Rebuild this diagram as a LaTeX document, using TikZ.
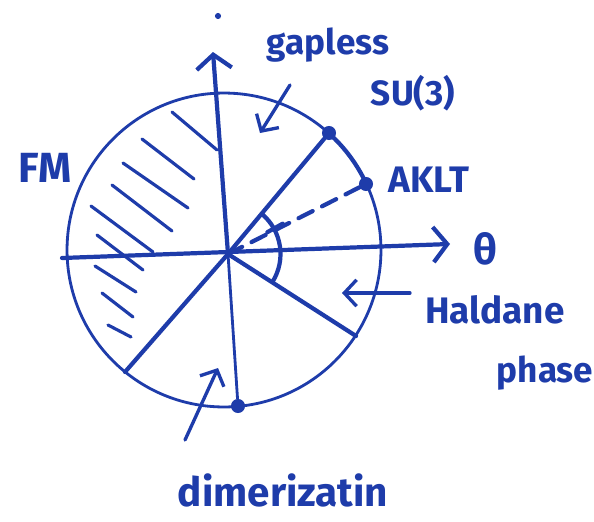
\documentclass[tikz,border=0pt]{standalone}
\usepackage{fontspec}
\setmainfont{Fira Sans}
\usetikzlibrary{arrows.meta}
\definecolor{ink}{RGB}{30,60,170}
\pgfdeclarelayer{edgelayer}
\pgfdeclarelayer{nodelayer}
\pgfsetlayers{edgelayer,nodelayer,main}
\tikzstyle{edge}=[draw=ink, line width=2.4pt, line cap=round]
\tikzstyle{thin edge}=[draw=ink, line width=1.6pt, line cap=round]
\tikzstyle{hatch}=[draw=ink, line width=1.8pt, line cap=round]
\tikzstyle{axis}=[edge, -{Straight Barb[length=8pt, width=20pt]}]
\tikzstyle{pointer}=[draw=ink, line width=1.9pt, line cap=round, -{Straight Barb[length=7pt, width=15pt]}]
\tikzstyle{vertex}=[circle, fill=ink, inner sep=0pt, minimum size=8pt]
\tikzstyle{word}=[text=ink, font=\fontsize{20}{24}\selectfont\bfseries, inner sep=0pt]

\begin{document}
\begin{tikzpicture}[x=0.02cm, y=-0.02cm]
				\useasboundingbox (0,0) rectangle (594,521);
				\begin{pgfonlayer}{nodelayer}
					\coordinate (O) at (228,254);
					\coordinate (C) at (224,250);
					\coordinate (xl) at (62,258);
					\coordinate (xr) at (450,244);
					\coordinate (yt) at (213,52);
					\coordinate (ll) at (125,372);
					\coordinate (lr) at (356,336);
					\node [style=vertex] (su3) at (329,133) {};
					\node [style=vertex] (aklt) at (366,184) {};
					\node [style=vertex] (dimer) at (238,406) {};
					\node [circle, fill=ink, inner sep=0pt, minimum size=3.5pt] (speck) at (218,16) {};
					\node [style=word] (gapless) at (328,45) {gapless};
					\node [style=word] (su3 text) at (413,93) {SU(3)};
					\node [style=word, font=\fontsize{21}{24}\selectfont\bfseries] (aklt text) at (429,180) {AKLT};
					\node [style=word, font=\fontsize{24}{28}\selectfont\bfseries] (fm) at (45,168) {FM};
					\node [style=word, font=\fontsize{24}{28}\selectfont\bfseries] (theta) at (485,249) {θ};
					\node [style=word, font=\fontsize{21}{24}\selectfont\bfseries] (haldane) at (495,310) {Haldane};
					\node [style=word] (phase) at (545,373) {phase};
					\node [style=word, font=\fontsize{23}{26}\selectfont\bfseries] (dimerization) at (283,490) {dimerizatin};
					\coordinate (g1) at (290,85);
					\coordinate (g2) at (260,133);
					\coordinate (h1) at (410,293);
					\coordinate (h2) at (342,293);
					\coordinate (d1) at (185,440);
					\coordinate (d2) at (218,368);
				\end{pgfonlayer}
				\begin{pgfonlayer}{edgelayer}
					\draw [thin edge] (C) circle [radius=3.14cm];
					\draw [edge] ([shift={(48:3.14cm)}]C) arc [start angle=48, end angle=25, radius=3.14cm];
					\draw [style=axis] (xl) to (xr);
					\draw [style=axis] (O) to (yt);
					\draw [style=edge] (O) to (su3);
					\draw [style=edge, dash pattern=on 9pt off 6pt] (O) to (aklt);
					\draw [style=edge] (O) to (lr);
					\draw [style=edge] (O) to (ll);
					\draw [style=thin edge] (O) to (dimer);
					\draw [style=edge] ([shift={(50:1.05cm)}]O) arc [start angle=50, end angle=-32, radius=1.05cm];
					\draw [style=edge] ([shift={(29:0.9cm)}]O) to ([shift={(29:1.25cm)}]O);
					\draw [style=pointer] (g1) to (g2);
					\draw [style=pointer] (h1) to (h2);
					\draw [style=pointer] (d1) to (d2);
					% hatching of the FM part
					\draw [style=hatch] (172,112) -- (217,150);
					\draw [style=hatch] (142,139) -- (194,179);
					\draw [style=hatch] (123,163) -- (188,208);
					\draw [style=hatch] (112,185) -- (172,231);
					\draw [style=hatch] (91,206) -- (153,252);
					\draw [style=hatch] (97,235) -- (143,270);
					\draw [style=hatch] (95,266) -- (136,292);
					\draw [style=hatch] (102,293) -- (133,317);
					\draw [style=hatch] (108,325) -- (131,337);
				\end{pgfonlayer}
			\end{tikzpicture}
\end{document}
